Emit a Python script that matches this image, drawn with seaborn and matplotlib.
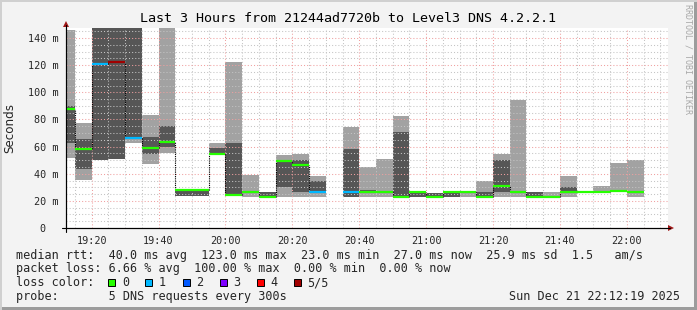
import numpy as np
import pandas as pd
import matplotlib
matplotlib.use("Agg")
import matplotlib.pyplot as plt
import seaborn as sns
from matplotlib.patches import Rectangle

# ---------------- data (ms), one 5-minute step each; start minute after 19:00 ----------------
step_start = [10, 15, 20, 25, 30, 35, 40, 45, 50, 55, 60, 65, 70, 75, 80, 85, 90, 95,
              100, 105, 110, 115, 120, 125, 130, 135, 140, 145, 150, 155, 160, 165,
              170, 175, 180, 185]
nan = float("nan")
rtt_min = [51.3, 35.4, 50.1, 50.8, 62.9, 47.2, 55.5, 23.8, 23.8, 54.5, 23.8, 23.1, 22.4,
           23.1, 23.1, 23.1, nan, 23.1, 23.1, 23.1, 23.1, 23.1, 23.8, 23.1, 23.1, 23.1,
           23.1, 23.1, 23.1, 23.1, 23.1, 26.0, 26.5, 26.5, 23.1, nan]
rtt_lo = [62.4, 43.5, 50.1, 50.8, 66.8, 54.5, 59.9, 23.8, 23.8, 55.0, 23.8, 26.0, 22.4,
          30.4, 26.5, 26.5, nan, 23.1, 26.0, 26.5, 23.1, 23.1, 23.8, 23.1, 26.5, 23.8,
          26.5, 26.0, 23.1, 26.5, 26.5, 26.5, 26.5, 26.5, 26.5, nan]
rtt_hi = [89.9, 65.6, 160.0, 160.0, 160.0, 66.8, 75.2, 27.3, 28.3, 59.0, 62.6, 27.0, 26.5,
          50.1, 50.1, 34.6, nan, 58.5, 28.0, 26.5, 70.7, 26.5, 25.8, 26.5, 26.5, 26.5,
          50.1, 27.0, 26.5, 26.5, 30.4, 26.5, 26.5, 26.5, 26.5, nan]
rtt_max = [145.9, 77.6, 160.0, 160.0, 160.0, 83.3, 160.0, 27.5, 28.5, 62.4, 122.3, 39.3,
           26.5, 53.8, 54.5, 38.6, nan, 74.7, 45.2, 50.8, 82.5, 26.5, 25.8, 26.5, 26.5,
           34.6, 54.5, 94.3, 26.5, 26.5, 38.6, 27.0, 30.9, 48.1, 50.1, nan]
rtt_median = [88.0, 58.5, 121.1, 122.6, 66.6, 59.2, 63.4, 27.8, 28.2, 54.8, 24.6, 26.8,
              23.1, 49.6, 46.7, 26.5, nan, 26.5, 26.5, 26.5, 23.0, 26.5, 23.1, 26.5, 26.5,
              23.1, 30.9, 26.5, 23.1, 23.1, 26.5, 26.5, 26.5, 27.3, 26.5, nan]
loss_level = ["0", "0", "1", "5/5", "1", "0", "0", "0", "0", "0", "0", "0", "0", "0", "0",
              "1", "", "1", "0", "0", "0", "0", "0", "0", "0", "0", "0", "0", "0", "0", "0",
              "0", "0", "0", "0", ""]

loss_names = ["0", "1", "2", "3", "4", "5/5"]
loss_colors = ["#26ff00", "#00b8ff", "#0059ff", "#7e00ff", "#ff0000", "#a10000"]

x_ticks = [20, 40, 60, 80, 100, 120, 140, 160, 180]
x_tick_labels = ["19:20", "19:40", "20:00", "20:20", "20:40", "21:00", "21:20", "21:40", "22:00"]
y_ticks = [0, 20, 40, 60, 80, 100, 120, 140]
y_tick_labels = ["0  ", "20 m", "40 m", "60 m", "80 m", "100 m", "120 m", "140 m"]

title = "Last 3 Hours from 21244ad7720b to Level3 DNS 4.2.2.1"
line_rtt = "median rtt:  40.0 ms avg  123.0 ms max  23.0 ms min  27.0 ms now  25.9 ms sd  1.5   am/s"
line_loss = "packet loss: 6.66 % avg  100.00 % max  0.00 % min  0.00 % now"
line_probe = "probe:       5 DNS requests every 300s"
date_text = "Sun Dec 21 22:12:19 2025"

# ---------------- style ----------------
sns.set_style("white")
plt.rcParams["font.family"] = ["DejaVu Sans Mono", "DejaVu Sans"]

W, H = 697, 310
fig = plt.figure(figsize=(W / 100, H / 100), dpi=100)
fig.patch.set_facecolor("#f3f3f3")

def px(x, y):
    return x / W, 1 - y / H

ax = fig.add_axes([66 / W, (H - 228) / H, 602 / W, 200 / H])
ax.set_facecolor("white")

x0 = 12 + 19 / 60
x1 = x0 + 180
ax.set_xlim(x0, x1)
ax.set_ylim(0, 147.4)

# smoke
light = "#a2a2a2"
dark = "#565656"
for i, t in enumerate(step_start):
    if np.isnan(rtt_min[i]):
        continue
    ax.bar(t, rtt_max[i] - rtt_min[i], bottom=rtt_min[i], width=5, align="edge",
           color=light, linewidth=0, zorder=1)
    if rtt_hi[i] > rtt_lo[i]:
        ax.bar(t, rtt_hi[i] - rtt_lo[i], bottom=rtt_lo[i], width=5, align="edge",
               color=dark, linewidth=0, zorder=1.1)

# dotted connectors between medians
for i in range(1, len(step_start)):
    a, b = rtt_median[i - 1], rtt_median[i]
    if np.isnan(a) or np.isnan(b):
        continue
    ax.vlines(step_start[i], min(a, b), max(a, b), colors="#000000",
              linestyles=(0, (1, 1)), linewidth=0.8, zorder=3)

# median segments coloured by loss (seaborn)
rows = []
for i, t in enumerate(step_start):
    m = rtt_median[i]
    if np.isnan(m):
        continue
    rows.append(dict(t=t, v=m, step=i, loss=loss_level[i]))
    rows.append(dict(t=t + 5, v=m, step=i, loss=loss_level[i]))
med_df = pd.DataFrame(rows)
palette = dict(zip(loss_names, loss_colors))
sns.lineplot(data=med_df, x="t", y="v", units="step", hue="loss", estimator=None,
             palette=palette, linewidth=1.6, legend=False, ax=ax, zorder=4,
             solid_capstyle="butt")

# grid / ticks
ax.set_xticks(x_ticks)
ax.set_xticklabels(x_tick_labels)
ax.set_xticks(np.arange(15, 195, 5), minor=True)
ax.set_yticks(y_ticks)
ax.set_yticklabels(y_tick_labels)
ax.set_yticks(np.arange(5, 147, 5), minor=True)
ax.set_axisbelow(False)
ax.grid(which="major", color="#f0a0a0", linestyle=(0, (1, 2)), linewidth=0.75)
ax.grid(which="minor", color="#c4c4c4", linestyle=(0, (1, 2)), linewidth=0.75)
ax.tick_params(which="both", direction="out", color="black", width=0.7,
               labelsize=7.3, pad=2.5)
ax.tick_params(which="major", length=3)
ax.tick_params(which="minor", length=2)
ax.set_xlabel("")
ax.set_ylabel("")
for s in ["top", "right"]:
    ax.spines[s].set_visible(False)
for s in ["left", "bottom"]:
    ax.spines[s].set_color("black")
    ax.spines[s].set_linewidth(0.8)

# axis extensions and arrows
fig.add_artist(plt.Line2D([px(62, 0)[0], px(670, 0)[0]], [px(0, 228)[1]] * 2,
                          color="black", lw=0.8, transform=fig.transFigure))
fig.add_artist(plt.Line2D([px(66, 0)[0]] * 2, [px(0, 232)[1], px(0, 25)[1]],
                          color="black", lw=0.8, transform=fig.transFigure))
fig.text(*px(671, 228), "", transform=fig.transFigure)
ax_arrow = fig.add_axes([0, 0, 1, 1], facecolor="none")
ax_arrow.set_xlim(0, W)
ax_arrow.set_ylim(H, 0)
ax_arrow.axis("off")
ax_arrow.plot([671], [228], marker=">", markersize=5, color="#a01818", markeredgewidth=0)
ax_arrow.plot([66], [24], marker="^", markersize=5, color="#a01818", markeredgewidth=0)

# borders
fig.add_artist(Rectangle((0, 0), 1, 3 / H, transform=fig.transFigure, color="#9c9c9c", lw=0))
fig.add_artist(Rectangle((1 - 3 / W, 0), 3 / W, 1, transform=fig.transFigure, color="#9c9c9c", lw=0))
fig.add_artist(Rectangle((0, 0), 2 / W, 1, transform=fig.transFigure, color="#d0d0d0", lw=0))
fig.add_artist(Rectangle((0, 1 - 2 / H), 1, 2 / H, transform=fig.transFigure, color="#d0d0d0", lw=0))

# texts
fig.text(*px(348, 19), title, ha="center", va="center", fontsize=9.6, color="black")
fig.text(*px(10, 128), "Seconds", rotation=90, ha="center", va="center", fontsize=8.6,
         family="DejaVu Sans")
fig.text(*px(688, 4), "RRDTOOL / TOBI OETIKER", rotation=-90, ha="center", va="top",
         fontsize=6, color="#a8a8a8")

fs = 8.5
fig.text(*px(16, 255), line_rtt, ha="left", va="center", fontsize=fs)
fig.text(*px(16, 268.5), line_loss, ha="left", va="center", fontsize=fs)
fig.text(*px(16, 282.5), "loss color:", ha="left", va="center", fontsize=fs)
for i, (name, col) in enumerate(zip(loss_names, loss_colors)):
    bx = 108.3 + 37.1 * i
    fig.add_artist(Rectangle(px(bx, 286), 7 / W, 7 / H, transform=fig.transFigure,
                             facecolor=col, edgecolor="black", lw=0.7))
    fig.text(*px(bx + 13.5, 282.5), name, ha="left", va="center", fontsize=fs)
fig.text(*px(16, 296.5), line_probe, ha="left", va="center", fontsize=fs)
fig.text(*px(680, 296.5), date_text, ha="right", va="center", fontsize=fs)

fig.savefig("out.png", dpi=100, facecolor=fig.get_facecolor())
